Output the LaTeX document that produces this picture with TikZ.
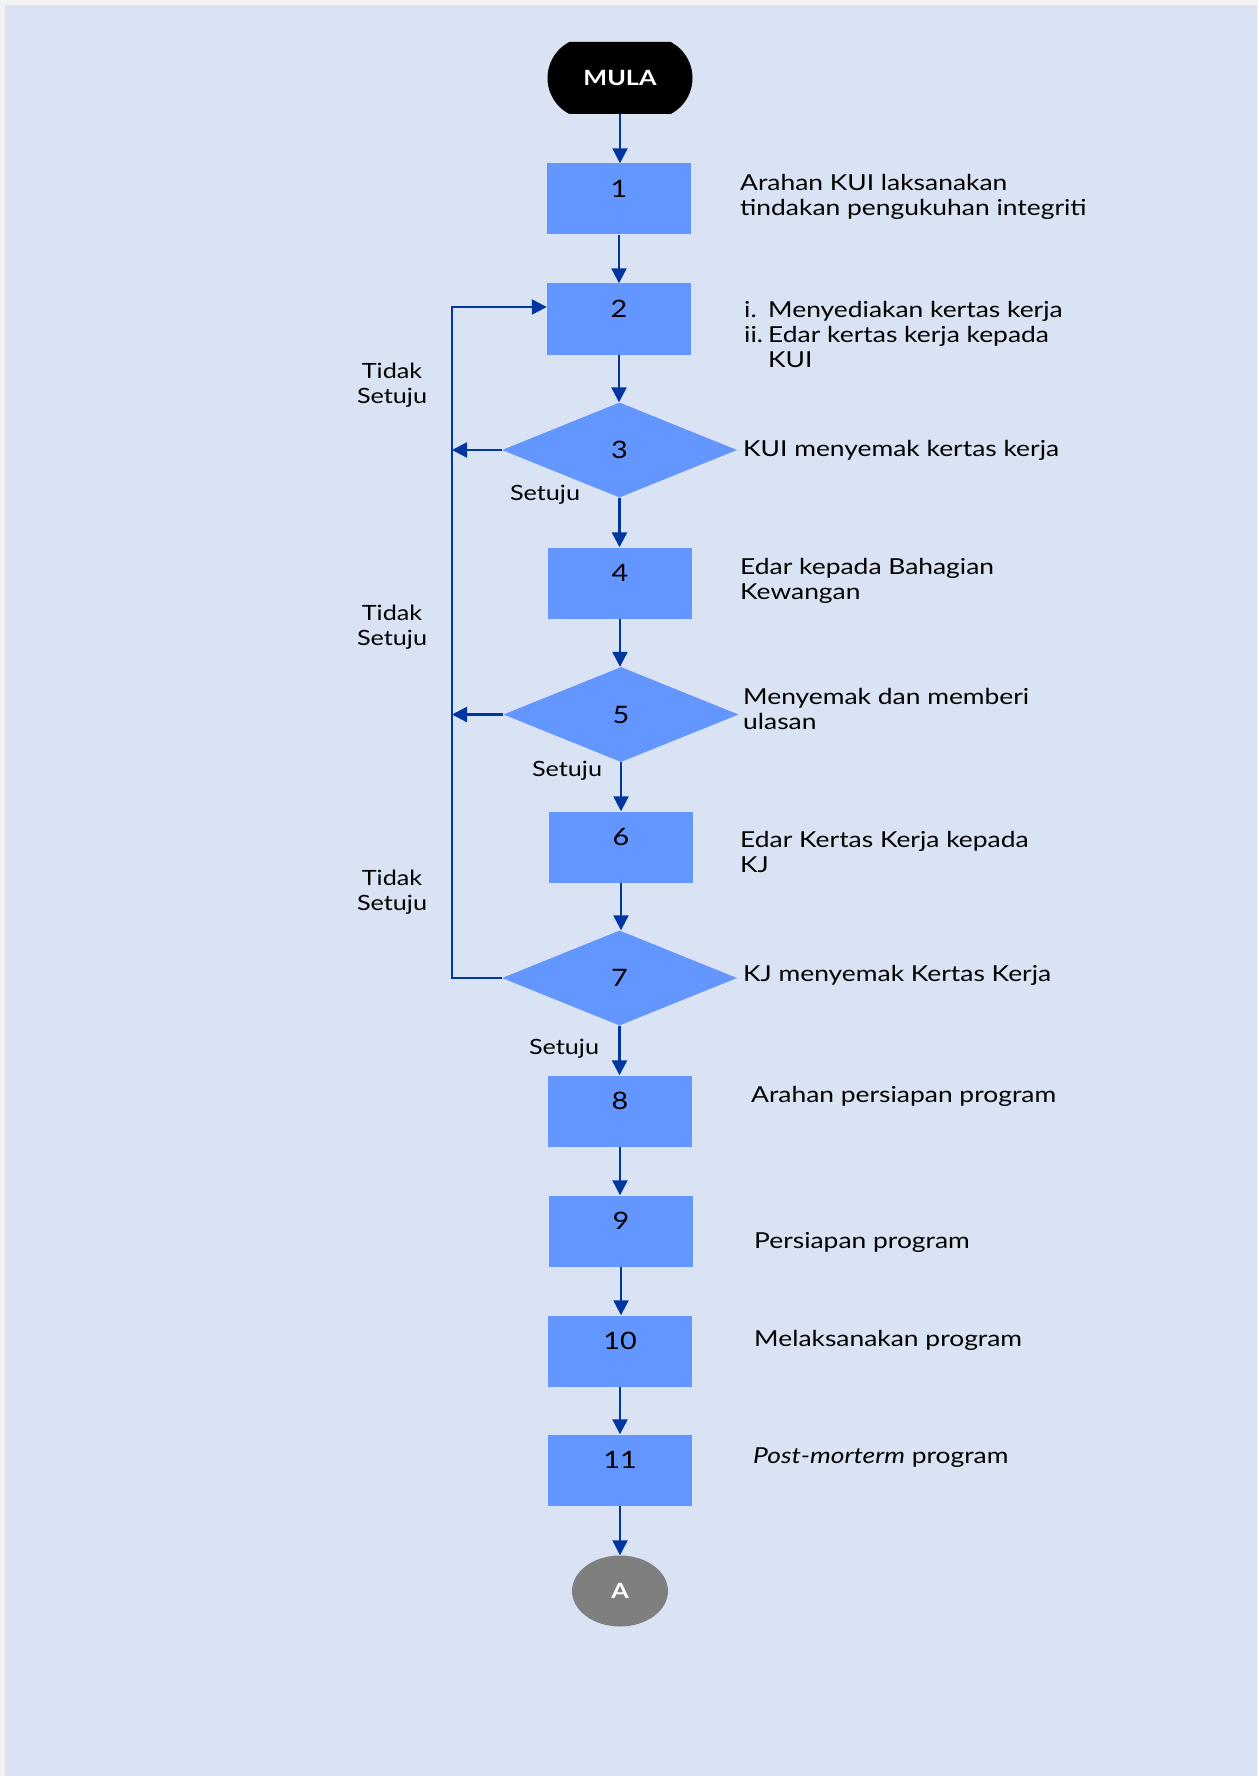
\documentclass[tikz,border=0pt]{standalone}
\usepackage{fontspec}
\setmainfont{Lato}[FakeStretch=1.2]
\usetikzlibrary{shapes.geometric,shapes.misc,arrows.meta}
\definecolor{pagebg}{HTML}{F2F2F2}
\definecolor{canvas}{HTML}{DAE3F3}
\definecolor{boxblue}{HTML}{6396FE}
\definecolor{linkblue}{HTML}{0036A0}
\definecolor{termgray}{HTML}{7F7F7F}
\begin{document}
\begin{tikzpicture}[x=1pt,y=-1pt,
  stepbox/.style={rectangle,fill=boxblue,minimum width=144pt,minimum height=71pt,inner sep=0pt,font=\fontsize{24}{26}\selectfont,text height=17pt,text depth=20pt},
  decision/.style={diamond,fill=boxblue,minimum width=235pt,minimum height=95pt,inner sep=0pt,font=\fontsize{24}{26}\selectfont},
  desc/.style={anchor=west,align=left,inner sep=0pt,font=\fontsize{22}{25}\selectfont},
  lbl/.style={align=center,inner sep=0pt,font=\fontsize{21}{25}\selectfont},
  link/.style={draw=linkblue,line width=2.3pt,-{Triangle[length=15pt,width=15pt]}},
  plain/.style={draw=linkblue,line width=2.3pt}
]
\useasboundingbox (0,0) rectangle (1258,1776);
\fill[pagebg] (0,0) rectangle (1258,1776);
\fill[canvas] (5,5) rectangle (1257,1776);

% terminals
\node[rounded rectangle,rounded rectangle arc length=125,fill=black,text=white,minimum width=145pt,minimum height=72pt,inner sep=0pt,font=\bfseries\fontsize{21}{22}\selectfont] (start) at (620,78) {MULA};
\node[ellipse,fill=termgray,text=white,minimum width=96pt,minimum height=71pt,inner sep=0pt,font=\bfseries\fontsize{21}{22}\selectfont] (endA) at (620,1591) {A};

% steps
\node[stepbox] (s1) at (619,199) {1};
\node[stepbox] (s2) at (619,319) {2};
\node[decision] (d3) at (619.5,450) {3};
\node[stepbox] (s4) at (620,583) {4};
\node[decision] (d5) at (621,714.5) {5};
\node[stepbox] (s6) at (621,847) {6};
\node[decision] (d7) at (619.5,978) {7};
\node[stepbox] (s8) at (620,1111) {8};
\node[stepbox] (s9) at (621,1231) {9};
\node[stepbox] (s10) at (620,1351) {10};
\node[stepbox] (s11) at (620,1470) {11};

% main flow
\draw[link] (start.south) -- (start.south |- s1.north);
\draw[link] (s1.south) -- (s1.south |- s2.north);
\draw[link] (s2.south) -- (s2.south |- d3.north);
\draw[link] (d3.south) -- (d3.south |- s4.north);
\draw[link] (s4.south) -- (s4.south |- d5.north);
\draw[link] (d5.south) -- (d5.south |- s6.north);
\draw[link] (s6.south) -- (s6.south |- d7.north);
\draw[link] (d7.south) -- (d7.south |- s8.north);
\draw[link] (s8.south) -- (s8.south |- s9.north);
\draw[link] (s9.south) -- (s9.south |- s10.north);
\draw[link] (s10.south) -- (s10.south |- s11.north);
\draw[link] (s11.south) -- (s11.south |- endA.north);

% loop back
\coordinate (loopTop) at (452,307);
\coordinate (loopBot) at (452,978);
\draw[link] (d3.west) -- (d3.west -| loopTop);
\draw[link] (d5.west) -- (d5.west -| loopTop);
\draw[plain,-{Triangle[length=15pt,width=15pt]}] (d7.west) -- (loopBot) -- (loopTop) -- (loopTop -| s2.west);

% labels on branches
\node[lbl] (t1) at (392,385) {Tidak\\Setuju};
\node[lbl] (t2) at (392,627) {Tidak\\Setuju};
\node[lbl] (t3) at (392,892) {Tidak\\Setuju};
\node[lbl] (y3) at (545,495) {Setuju};
\node[lbl] (y5) at (567,771) {Setuju};
\node[lbl] (y7) at (564,1049) {Setuju};

% descriptions
\node[desc] (n1) at (740,197) {Arahan KUI laksanakan\\tindakan pengukuhan integriti};
\node[desc] (n2) at (744,334) {\makebox[24pt][l]{i.}Menyediakan kertas kerja\\\makebox[24pt][l]{ii.}Edar kertas kerja kepada\\\hspace*{24pt}KUI};
\node[desc] (n3) at (743,450) {KUI menyemak kertas kerja};
\node[desc] (n4) at (740,581) {Edar kepada Bahagian\\Kewangan};
\node[desc] (n5) at (743,709) {Menyemak dan memberi\\ulasan};
\node[desc] (n6) at (740,852) {Edar Kertas Kerja kepada\\KJ};
\node[desc] (n7) at (743,975) {KJ menyemak Kertas Kerja};
\node[desc] (n8) at (751,1096) {Arahan persiapan program};
\node[desc] (n9) at (754,1242) {Persiapan program};
\node[desc] (n10) at (754,1340) {Melaksanakan program};
\node[desc] (n11) at (753,1458) {\textit{Post-morterm} program};
\end{tikzpicture}
\end{document}
